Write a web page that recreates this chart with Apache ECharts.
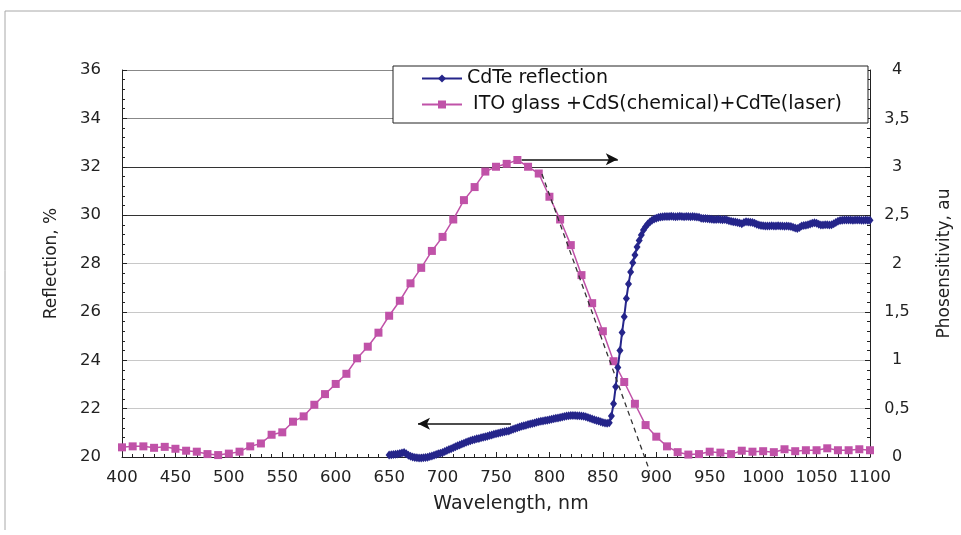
<!DOCTYPE html>
<html>
<head>
<meta charset="utf-8">
<script src="https://cdn.jsdelivr.net/npm/echarts@6/dist/echarts.min.js"></script>
<style>
html,body{margin:0;padding:0;background:#fff;}
#chart{width:961px;height:535px;}
</style>
</head>
<body>
<div id="chart"></div>
<script>
// ---- Data ----
const xTicks = [400,450,500,550,600,650,700,750,800,850,900,950,1000,1050,1100];
const leftTicks = [20,22,24,26,28,30,32,34,36];
const rightTicks = [0,0.5,1,1.5,2,2.5,3,3.5,4];

const blueName = 'CdTe reflection';
const pinkName = ' ITO glass +CdS(chemical)+CdTe(laser)';

const blueWavelength = [
650,652,654,656,658,660,662,664,666,668,670,672,674,676,678,680,682,684,686,688,
690,692,694,696,698,700,702,704,706,708,710,712,714,716,718,720,722,724,726,728,
730,732,734,736,738,740,742,744,746,748,750,752,754,756,758,760,762,764,766,768,
770,772,774,776,778,780,782,784,786,788,790,792,794,796,798,800,802,804,806,808,
810,812,814,816,818,820,822,824,826,828,830,832,834,836,838,840,842,844,846,848,
850,852,854,856,858,860,862,864,866,868,870,872,874,876,878,880,882,884,886,888,
890,892,894,896,898,900,902,904,906,908,910,912,914,916,918,920,922,924,926,928,
930,932,934,936,938,940,942,944,946,948,950,952,954,956,958,960,962,964,966,968,
970,972,974,976,978,980,982,984,986,988,990,992,994,996,998,1000,1002,1004,1006,1008,
1010,1012,1014,1016,1018,1020,1022,1024,1026,1028,1030,1032,1034,1036,1038,1040,1042,1044,1046,1048,
1050,1052,1054,1056,1058,1060,1062,1064,1066,1068,1070,1072,1074,1076,1078,1080,1082,1084,1086,1088,
1090,1092,1094,1096,1098,1100];
const blueReflection = [
20.08,20.09,20.10,20.11,20.12,20.14,20.17,20.19,20.13,20.07,20.03,20.00,19.98,19.97,19.96,19.96,19.97,19.98,19.99,20.02,
20.04,20.07,20.10,20.13,20.16,20.19,20.23,20.27,20.31,20.34,20.38,20.42,20.46,20.50,20.54,20.57,20.61,20.64,20.67,20.70,
20.72,20.75,20.77,20.80,20.82,20.84,20.86,20.89,20.91,20.94,20.96,20.98,21.00,21.02,21.04,21.06,21.08,21.12,21.15,21.18,
21.21,21.24,21.27,21.29,21.31,21.34,21.36,21.39,21.41,21.44,21.46,21.48,21.49,21.51,21.52,21.54,21.56,21.58,21.60,21.61,
21.63,21.65,21.67,21.69,21.71,21.72,21.72,21.72,21.71,21.71,21.70,21.68,21.66,21.63,21.60,21.57,21.54,21.51,21.49,21.46,
21.43,21.41,21.40,21.42,21.70,22.20,22.90,23.70,24.40,25.15,25.80,26.55,27.15,27.65,28.03,28.35,28.68,28.95,29.18,29.38,
29.52,29.63,29.72,29.79,29.84,29.87,29.90,29.92,29.93,29.94,29.94,29.94,29.95,29.94,29.93,29.94,29.95,29.94,29.93,29.94,
29.94,29.93,29.94,29.93,29.92,29.91,29.87,29.86,29.86,29.85,29.84,29.83,29.82,29.82,29.83,29.82,29.81,29.82,29.80,29.77,
29.75,29.73,29.72,29.70,29.67,29.64,29.70,29.73,29.72,29.71,29.70,29.66,29.62,29.59,29.57,29.56,29.55,29.55,29.55,29.56,
29.55,29.55,29.56,29.55,29.55,29.54,29.55,29.54,29.53,29.50,29.47,29.45,29.49,29.55,29.57,29.58,29.60,29.63,29.66,29.68,
29.66,29.62,29.59,29.59,29.60,29.60,29.59,29.60,29.64,29.70,29.75,29.78,29.79,29.80,29.80,29.80,29.80,29.79,29.80,29.80,
29.80,29.79,29.79,29.80,29.79,29.79];

const pinkWavelength = [
400,410,420,430,440,450,460,470,480,490,500,510,520,530,540,550,560,570,580,590,
600,610,620,630,640,650,660,670,680,690,700,710,720,730,740,750,760,770,780,790,
800,810,820,830,840,850,860,870,880,890,900,910,920,930,940,950,960,970,980,990,
1000,1010,1020,1030,1040,1050,1060,1070,1080,1090,1100];
const pinkPhoto = [
0.10,0.11,0.11,0.095,0.105,0.085,0.065,0.055,0.03,0.02,0.035,0.055,0.11,0.14,0.23,0.255,0.365,0.42,0.54,0.65,
0.755,0.86,1.02,1.14,1.285,1.46,1.615,1.795,1.955,2.13,2.275,2.455,2.655,2.79,2.95,3.0,3.03,3.07,3.0,2.93,
2.69,2.455,2.19,1.88,1.59,1.30,0.99,0.775,0.55,0.33,0.21,0.11,0.05,0.025,0.03,0.055,0.045,0.03,0.065,0.055,
0.06,0.05,0.08,0.06,0.07,0.07,0.09,0.07,0.07,0.08,0.07];

// tangent (dashed) line, in axis units (x nm, y %)
const tangentX = [793, 894];
const tangentY = [31.7, 19.4];
// arrows (x nm, y %)
const arrowRight = [[774, 32.31],[864, 32.31]];
const arrowLeft = [[764, 21.37],[677, 21.37]];

// ---- Chart ----
const chart = echarts.init(document.getElementById('chart'));
const blue = '#25258a';
const pink = '#c052a8';
const font = '"DejaVu Sans", Verdana, sans-serif';

const zip = (a, b) => a.map((v, i) => [v, b[i]]);

chart.setOption({
  animation: false,
  backgroundColor: '#fff',
  textStyle: { fontFamily: font },
  graphic: [
    { type: 'polyline', shape: { points: [[5,530],[5,11],[961,11]] }, style: { stroke: '#a8a8a8', lineWidth: 1, fill: null } }
  ],
  legend: {
    orient: 'vertical',
    left: 393, top: 66,
    padding: [3, 26, 9, 28],
    itemGap: 7,
    itemWidth: 40, itemHeight: 10,
    backgroundColor: '#fff',
    borderColor: '#222', borderWidth: 1,
    textStyle: { fontSize: 19, color: '#111', fontFamily: font },
    data: [blueName, pinkName]
  },
  grid: { left: 122, right: 89, top: 70, bottom: 78, containLabel: false },
  xAxis: {
    type: 'value', min: 400, max: 1100, interval: 50,
    name: 'Wavelength, nm', nameLocation: 'middle', nameGap: 38,
    nameTextStyle: { fontSize: 19, color: '#222', fontFamily: font, padding: [0, 0, 0, 30] },
    axisLine: { lineStyle: { color: '#222', width: 1 } },
    axisTick: { inside: true, length: 5, lineStyle: { color: '#222' } },
    minorTick: { show: true, splitNumber: 5, length: 3, lineStyle: { color: '#222' } },
    axisLabel: { fontSize: 16.5, color: '#222', margin: 12, fontFamily: font, formatter: v => String(v) },
    splitLine: { show: false }
  },
  yAxis: [
    {
      type: 'value', min: 20, max: 36, interval: 2,
      name: 'Reflection, %', nameLocation: 'middle', nameGap: 62, nameRotate: 90,
      nameTextStyle: { fontSize: 17, color: '#222', fontFamily: font },
      axisLine: { show: true, lineStyle: { color: '#222' } },
      axisTick: { inside: true, length: 5, lineStyle: { color: '#222' } },
      minorTick: { show: true, splitNumber: 5, length: 3, lineStyle: { color: '#222' } },
      axisLabel: { fontSize: 16.5, color: '#222', margin: 21, fontFamily: font },
      splitLine: { show: true, lineStyle: { color: ['#bbb','#c8c8c8','#c8c8c8','#c8c8c8','#c8c8c8','#333','#333','#888','#888'], width: 1 } }
    },
    {
      type: 'value', min: 0, max: 4, interval: 0.5,
      name: 'Phosensitivity, au', nameLocation: 'middle', nameGap: 66, nameRotate: 90,
      nameTextStyle: { fontSize: 17, color: '#222', fontFamily: font },
      axisLine: { show: true, lineStyle: { color: '#222' } },
      axisTick: { inside: true, length: 5, lineStyle: { color: '#222' } },
      minorTick: { show: true, splitNumber: 5, length: 3, lineStyle: { color: '#222' } },
      axisLabel: { fontSize: 16, color: '#222', margin: 27, align: 'center', fontFamily: font, formatter: v => String(v).replace('.', ',') },
      splitLine: { show: false }
    }
  ],
  series: [
    {
      name: pinkName, type: 'line', yAxisIndex: 1,
      data: zip(pinkWavelength, pinkPhoto),
      symbol: 'rect', symbolSize: 8,
      lineStyle: { color: pink, width: 1.5 },
      itemStyle: { color: pink },
      z: 3
    },
    {
      name: blueName, type: 'line', yAxisIndex: 0,
      data: zip(blueWavelength, blueReflection),
      symbol: 'diamond', symbolSize: [7, 9], clip: false,
      lineStyle: { color: blue, width: 2 },
      itemStyle: { color: blue },
      z: 4,
      markLine: {
        silent: true, animation: false,
        lineStyle: { color: '#111', width: 1.5, type: 'solid' },
        label: { show: false },
        symbol: ['none', 'arrow'], symbolSize: [9, 12],
        data: [
          [{ coord: arrowRight[0] }, { coord: arrowRight[1] }],
          [{ coord: arrowLeft[0] }, { coord: arrowLeft[1] }]
        ]
      }
    },
    {
      name: 'tangent', type: 'line', yAxisIndex: 0,
      data: zip(tangentX, tangentY),
      symbol: 'none', clip: false,
      lineStyle: { color: '#333', width: 1.3, type: [5, 4] },
      z: 5, silent: true
    }
  ]
});
</script>
</body>
</html>
